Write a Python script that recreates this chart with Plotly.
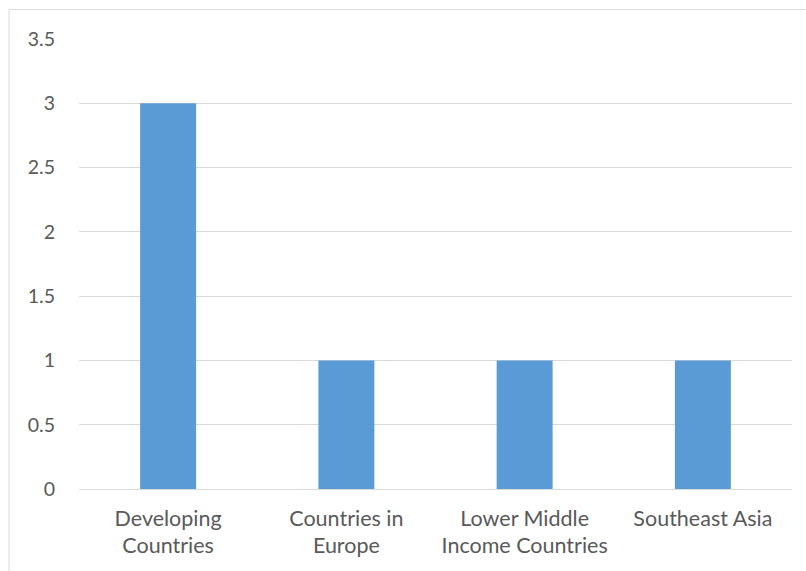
import plotly.graph_objects as go

categories = ["Developing<br>Countries", "Countries in<br>Europe", "Lower Middle<br>Income Countries", "Southeast Asia"]
values = [3, 1, 1, 1]
y_ticks = [0, 0.5, 1, 1.5, 2, 2.5, 3, 3.5]
y_tick_labels = ["0", "0.5", "1", "1.5", "2", "2.5", "3", "3.5"]

W, H = 806, 571
ml, mr, mt, mb = 79, 14, 39, 82
pw, ph = W - ml - mr, H - mt - mb

fig = go.Figure(go.Bar(x=categories, y=values, marker_color="#5B9BD5", marker_line_width=0))

fig.update_layout(
    width=W, height=H,
    margin=dict(l=ml, r=mr, t=mt, b=mb),
    paper_bgcolor="white", plot_bgcolor="white",
    bargap=0.686,
    showlegend=False,
    font=dict(family="Lato", size=20, color="#595959"),
    xaxis=dict(showgrid=False, showline=False, ticks="", tickfont=dict(size=21.5),
               ticklabelstandoff=14),
    yaxis=dict(range=[0, 3.5], tickvals=y_ticks, ticktext=y_tick_labels,
               showgrid=True, gridcolor="#D9D9D9", gridwidth=1,
               zeroline=True, zerolinecolor="#D9D9D9", zerolinewidth=1,
               showline=False, ticks="", ticklabelstandoff=23, tickfont=dict(size=19.5)),
    shapes=[dict(type="rect", xref="paper", yref="paper",
                 x0=(9 - ml) / pw, x1=(W + 5 - ml) / pw,
                 y0=(H - mb - (H + 5)) / ph, y1=1 + (mt - 9.5) / ph,
                 line=dict(color="#D9D9D9", width=1), layer="below")],
)

fig.write_html("out.html")
